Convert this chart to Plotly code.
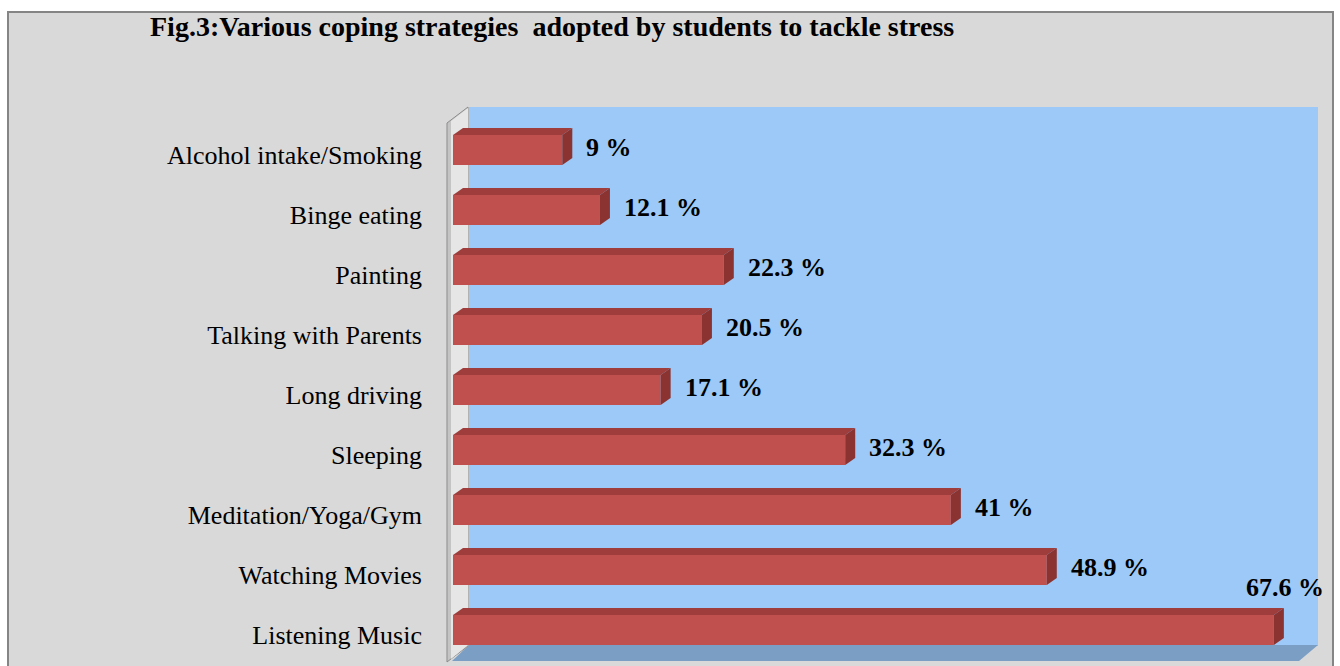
import plotly.graph_objects as go

# ---- data (bottom to top) ----
categories = ["Listening Music", "Watching Movies", "Meditation/Yoga/Gym", "Sleeping",
              "Long driving", "Talking with Parents", "Painting", "Binge eating",
              "Alcohol intake/Smoking"]
values = [67.6, 48.9, 41, 32.3, 17.1, 20.5, 22.3, 12.1, 9]
value_labels = ["67.6 %", "48.9 %", "41 %", "32.3 %", "17.1 %", "20.5 %", "22.3 %", "12.1 %", "9 %"]
title_text = "Fig.3:Various coping strategies&nbsp; adopted by students to tackle stress"

W, H = 1340, 666
L, R, T, B = 453, 37, 120, 6
PW, PH = W - L - R, H - T - B
XMAX = 70

FRONT = "#c0504d"
TOP = "#9e3d3b"
SIDE = "#8a3331"
WALL = "#9cc9f7"
FLOOR = "#7b9ec4"
BG = "#d9d9d9"
FONT = "Liberation Serif, Times New Roman, serif"

def px(x):
    return (x - L) / PW

def py(y):
    return (H - B - y) / PH

def ppath(points):
    return "M " + " L ".join(f"{px(a):.5f},{py(b):.5f}" for a, b in points) + " Z"

idx = list(range(len(categories)))
bw = 0.5
dx = 10 / (PW / XMAX)      # depth offset in data units
dy = 7 / (PH / len(categories))

fig = go.Figure()

# front faces
fig.add_trace(go.Bar(y=idx, x=values, orientation="h", width=bw,
                     marker=dict(color=FRONT, line=dict(width=0)), showlegend=False,
                     hoverinfo="skip"))

# top faces and side faces
for i, v in zip(idx, values):
    yt = i + bw / 2
    yb = i - bw / 2
    fig.add_trace(go.Scatter(x=[0, v, v + dx, dx, 0], y=[yt, yt, yt + dy, yt + dy, yt],
                             fill="toself", fillcolor=TOP, mode="lines",
                             line=dict(width=0, color=TOP), showlegend=False, hoverinfo="skip"))
    fig.add_trace(go.Scatter(x=[v, v + dx, v + dx, v, v], y=[yb, yb + dy, yt + dy, yt, yb],
                             fill="toself", fillcolor=SIDE, mode="lines",
                             line=dict(width=0, color=SIDE), showlegend=False, hoverinfo="skip"))

# value labels
vmax = max(values)
for i, v, t in zip(idx, values, value_labels):
    if v == vmax:
        fig.add_annotation(x=v + dx, y=i + bw / 2 + dy, text=f"<b>{t}</b>", showarrow=False,
                           xanchor="right", yanchor="bottom", xshift=42, yshift=4,
                           font=dict(family=FONT, size=26, color="black"))
    else:
        fig.add_annotation(x=v + dx, y=i, text=f"<b>{t}</b>", showarrow=False,
                           xanchor="left", yanchor="middle", xshift=12, yshift=3,
                           font=dict(family=FONT, size=26, color="black"))

shapes = []
# white outside frame + gray frame
shapes.append(dict(type="rect", xref="paper", yref="paper", x0=px(0), x1=px(W), y0=py(H + 5), y1=py(-5),
                   fillcolor="white", line=dict(width=0), layer="below"))
shapes.append(dict(type="rect", xref="paper", yref="paper", x0=px(8), x1=px(1333), y0=py(H + 10), y1=py(12),
                   fillcolor=BG, line=dict(width=2, color="#858585"), layer="below"))
# back wall
shapes.append(dict(type="rect", xref="paper", yref="paper", x0=px(469), x1=px(1318), y0=py(646), y1=py(107),
                   fillcolor=WALL, line=dict(width=0), layer="below"))
# floor
shapes.append(dict(type="path", xref="paper", yref="paper",
                   path=ppath([(452, 661), (1299, 661), (1318, 645), (469, 645)]),
                   fillcolor=FLOOR, line=dict(width=0), layer="below"))
# left wall
shapes.append(dict(type="path", xref="paper", yref="paper",
                   path=ppath([(447, 123), (468, 107), (468, 646), (447, 662)]),
                   fillcolor="#c4c4c4", line=dict(width=1, color="#8c8c8c"), layer="below"))
shapes.append(dict(type="path", xref="paper", yref="paper",
                   path=ppath([(451, 121), (468, 108), (468, 645), (451, 659)]),
                   fillcolor="#e6e6e6", line=dict(width=0), layer="below"))
fig.update_layout(shapes=shapes)

fig.add_annotation(xref="paper", yref="paper", x=px(148), y=py(27), xanchor="left", yanchor="middle",
                   text=f"<b>{title_text}</b>", showarrow=False,
                   font=dict(family=FONT, size=28, color="black"))

fig.update_layout(
    width=W, height=H,
    margin=dict(l=L, r=R, t=T, b=B, autoexpand=False),
    paper_bgcolor=BG, plot_bgcolor="rgba(0,0,0,0)",
    bargap=0.5,
    xaxis=dict(range=[0, XMAX], showgrid=False, zeroline=False, showticklabels=False,
               showline=False, ticks="", fixedrange=True),
    yaxis=dict(range=[-0.5, len(categories) - 0.5], tickmode="array", tickvals=idx,
               ticktext=categories, showgrid=False, zeroline=False, showline=False,
               ticks="", ticklabelstandoff=30, ticklabelshift=5,
               tickfont=dict(family=FONT, size=26, color="black")),
    showlegend=False,
)

fig.write_html("out.html")
